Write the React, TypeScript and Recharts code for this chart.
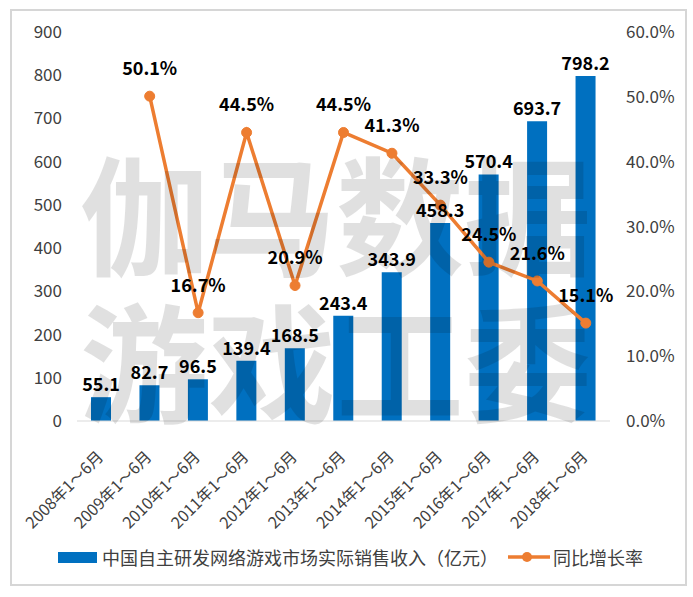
import React from "react";
import { ComposedChart, Bar, Line, XAxis, YAxis, LabelList } from "recharts";

const categories = [
  "2008年1～6月", "2009年1～6月", "2010年1～6月", "2011年1～6月", "2012年1～6月", "2013年1～6月",
  "2014年1～6月", "2015年1～6月", "2016年1～6月", "2017年1～6月", "2018年1～6月",
];
const revenue = [55.1, 82.7, 96.5, 139.4, 168.5, 243.4, 343.9, 458.3, 570.4, 693.7, 798.2];
const growth = [null, 50.1, 16.7, 44.5, 20.9, 44.5, 41.3, 33.3, 24.5, 21.6, 15.1];
const leftTicks = [0, 100, 200, 300, 400, 500, 600, 700, 800, 900];
const rightTicks = [0, 10, 20, 30, 40, 50, 60];

const barName = "中国自主研发网络游戏市场实际销售收入（亿元）";
const lineName = "同比增长率";

const data = categories.map((name, i) => ({ name, revenue: revenue[i], growth: growth[i] }));

const FONT = '"Noto Sans CJK SC", "Noto Sans", sans-serif';
const BLUE = "#0070C0";
const ORANGE = "#ED7D31";

function XTick(props: any) {
  const { x, y, payload } = props;
  const px = x + 3;
  const py = y + 29;
  return (
    <text
      x={px}
      y={py}
      transform={`rotate(-45, ${px}, ${py})`}
      textAnchor="end"
      fontSize={16}
      fontFamily={FONT}
      fill="#404040"
    >
      {payload.value}
    </text>
  );
}

export default function App() {
  return (
    <div style={{ position: "absolute", left: 0, top: 0, width: 693, height: 597, background: "#fff", fontFamily: FONT }}>
      <div style={{ position: "absolute", left: 10, top: 9, width: 673, height: 573, border: "2px solid #d6d6d6" }} />
      <ComposedChart
        width={693}
        height={597}
        data={data}
        margin={{ top: 32, right: 0, bottom: 46, left: 0 }}
        style={{ position: "absolute", left: 0, top: 0 }}
      >
        <XAxis
          dataKey="name"
          xAxisId={0}
          height={130}
          tickLine={false}
          axisLine={{ stroke: "#d9d9d9", strokeWidth: 1 }}
          tick={<XTick />}
          interval={0}
        />
        <YAxis
          yAxisId="left"
          width={77}
          domain={[0, 900]}
          ticks={leftTicks}
          tickLine={false}
          axisLine={false}
          tickSize={6}
          tickMargin={9}
          tick={{ fontSize: 17, fill: "#404040", fontFamily: FONT }}
        />
        <YAxis
          yAxisId="right"
          orientation="right"
          width={83}
          domain={[0, 60]}
          ticks={rightTicks}
          tickLine={false}
          axisLine={false}
          tickSize={6}
          tickMargin={10}
          tickFormatter={(v: number) => `${v.toFixed(1)}%`}
          tick={{ fontSize: 17, fill: "#404040", fontFamily: FONT }}
        />
        <Bar yAxisId="left" dataKey="revenue" fill={BLUE} barSize={20} isAnimationActive={false}>
          <LabelList
            dataKey="revenue"
            position="top"
            offset={6}
            formatter={(v: any) => (v == null ? "" : Number(v).toFixed(1))}
            style={{ fontSize: 18, fontWeight: 700, fill: "#000", fontFamily: FONT }}
          />
        </Bar>
        <Line
          yAxisId="right"
          dataKey="growth"
          stroke={ORANGE}
          strokeWidth={3.5}
          dot={{ r: 5, fill: ORANGE, stroke: ORANGE, strokeWidth: 1 }}
          isAnimationActive={false}
        >
          <LabelList
            dataKey="growth"
            position="top"
            offset={21}
            formatter={(v: any) => (v == null ? "" : `${Number(v).toFixed(1)}%`)}
            style={{ fontSize: 18, fontWeight: 700, fill: "#000", fontFamily: FONT }}
          />
        </Line>
      </ComposedChart>

      {/* watermark over the plot */}
      <svg width={693} height={597} style={{ position: "absolute", left: 0, top: 0, pointerEvents: "none" }}>
        <text x={80} y={266} fontSize={128} fontWeight={700} fontFamily={FONT} fill="rgba(0,0,0,0.12)">伽马数据</text>
        <text x={80} y={413} fontSize={128} fontWeight={700} fontFamily={FONT} fill="rgba(0,0,0,0.12)">游戏工委</text>
      </svg>

      {/* legend */}
      <div style={{ position: "absolute", left: 58, top: 545, height: 24, display: "flex", alignItems: "center", fontSize: 18, color: "#404040", whiteSpace: "nowrap" }}>
        <span style={{ display: "inline-block", width: 39, height: 11, background: BLUE, marginRight: 5 }} />
        <span>{barName}</span>
        <svg width={42} height={12} style={{ marginLeft: 10, marginRight: 3 }}>
          <line x1={0} y1={6} x2={42} y2={6} stroke={ORANGE} strokeWidth={3.5} />
          <circle cx={19} cy={6} r={5} fill={ORANGE} />
        </svg>
        <span>{lineName}</span>
      </div>
    </div>
  );
}
